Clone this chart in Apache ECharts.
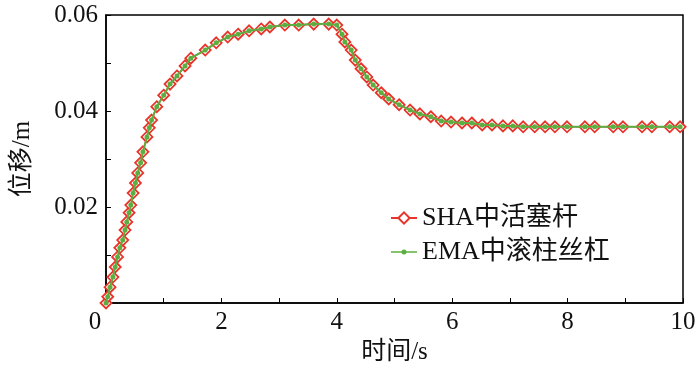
<!DOCTYPE html>
<html>
<head>
<meta charset="utf-8">
<script src="https://cdn.jsdelivr.net/npm/echarts@6/dist/echarts.min.js"></script>
<style>
  html, body { margin: 0; padding: 0; background: #fff; }
  #main { width: 700px; height: 376px; }
</style>
</head>
<body>
<div id="main"></div>
<script>
// 时间 (s)
var times = [0, 0.03, 0.07, 0.12, 0.16, 0.2, 0.24, 0.29, 0.33, 0.36, 0.4, 0.43, 0.47, 0.51, 0.55, 0.6, 0.64,
    0.71, 0.75, 0.79, 0.88, 1.0, 1.11, 1.23, 1.37, 1.47, 1.72, 1.91, 2.11, 2.29, 2.48, 2.69, 2.84, 3.1, 3.34,
    3.6, 3.86, 4.0, 4.09, 4.14, 4.25, 4.32, 4.42, 4.52, 4.63, 4.77, 4.9, 5.08, 5.27, 5.44, 5.63, 5.81, 5.98,
    6.17, 6.34, 6.52, 6.69, 6.88, 7.05, 7.23, 7.43, 7.61, 7.78, 7.99, 8.3, 8.47, 8.79, 8.96, 9.29, 9.46, 9.77, 9.95];
// 位移 (m)
var shaValues = [0, 0.0013, 0.0033, 0.0054, 0.0075, 0.0096, 0.0115, 0.0131, 0.0152, 0.0169, 0.0188, 0.0204, 0.0229,
    0.025, 0.0271, 0.0292, 0.0315, 0.0346, 0.0365, 0.0381, 0.0409, 0.0433, 0.0456, 0.0473, 0.0494, 0.051, 0.0527,
    0.0542, 0.0554, 0.056, 0.0567, 0.0571, 0.0575, 0.0579, 0.0579, 0.0581, 0.0581, 0.0579, 0.056, 0.0544, 0.0527,
    0.0506, 0.0488, 0.0471, 0.0454, 0.0438, 0.0425, 0.0413, 0.0402, 0.0394, 0.0388, 0.0379, 0.0377, 0.0375, 0.0375,
    0.0371, 0.0371, 0.0369, 0.0369, 0.0367, 0.0367, 0.0367, 0.0367, 0.0367, 0.0367, 0.0367, 0.0367, 0.0367, 0.0367,
    0.0367, 0.0367, 0.0367];
var emaValues = [0, 0.0013, 0.0033, 0.0054, 0.0075, 0.0096, 0.0115, 0.0131, 0.0152, 0.0169, 0.0188, 0.0204, 0.0229,
    0.025, 0.0271, 0.0292, 0.0315, 0.0346, 0.0365, 0.0381, 0.0409, 0.0433, 0.0456, 0.0473, 0.0494, 0.051, 0.0527,
    0.0542, 0.0554, 0.056, 0.0567, 0.0571, 0.0575, 0.0579, 0.0579, 0.0581, 0.0581, 0.0579, 0.056, 0.0544, 0.0527,
    0.0506, 0.0488, 0.0471, 0.0454, 0.0438, 0.0425, 0.0413, 0.0402, 0.0394, 0.0388, 0.0379, 0.0377, 0.0375, 0.0375,
    0.0371, 0.0371, 0.0369, 0.0369, 0.0367, 0.0367, 0.0367, 0.0367, 0.0367, 0.0367, 0.0367, 0.0367, 0.0367, 0.0367,
    0.0367, 0.0367, 0.0367];
var seriesNames = ['SHA中活塞杆', 'EMA中滚柱丝杠'];

var FONT = "'Liberation Serif', 'Noto Sans CJK SC', serif";
var RED = '#e8342b', GREEN = '#5cae41';

function pairs(vals) {
    return times.map(function (t, i) { return [t, vals[i]]; });
}

// 图例里的绿色小圆点+细线（两个空的点撑开包围盒）
var emaIcon = 'path://M0,0L0,0M26,14L26,14' +
    'M0,6.3L26,6.3L26,7.7L0,7.7Z' +
    'M10.5,7A2.5,2.5 0 1 1 15.5,7A2.5,2.5 0 1 1 10.5,7Z';

var chart = echarts.init(document.getElementById('main'));
chart.setOption({
    animation: false,
    grid: {
        left: 106, right: 17, top: 15, bottom: 73,
        show: true, borderColor: '#000', borderWidth: 1.5
    },
    legend: {
        left: 385, top: 200,
        orient: 'vertical',
        itemGap: 8,
        itemWidth: 26, itemHeight: 14,
        textStyle: { fontFamily: FONT, fontSize: 26, color: '#111' },
        data: [
            { name: seriesNames[0] },
            { name: seriesNames[1], icon: emaIcon, itemStyle: { color: GREEN } }
        ]
    },
    xAxis: {
        type: 'value', min: 0, max: 10, interval: 1,
        name: '时间/s', nameLocation: 'middle', nameGap: 35,
        nameTextStyle: { fontFamily: FONT, fontSize: 25, color: '#111' },
        axisLine: { lineStyle: { color: '#000', width: 1.5 } },
        axisTick: { inside: true, length: 5, lineStyle: { color: '#000' } },
        splitLine: { show: false },
        axisLabel: {
            margin: 7, fontFamily: FONT, fontSize: 25, color: '#111',
            formatter: function (v) {
                if (v === 0) return '{z|0}';
                return v % 2 === 0 ? String(v) : '';
            },
            rich: { z: { fontFamily: FONT, fontSize: 25, color: '#111', padding: [0, 22, 0, 0] } }
        }
    },
    yAxis: {
        type: 'value', min: 0, max: 0.06, interval: 0.01,
        name: '位移/m', nameLocation: 'middle', nameGap: 71,
        nameTextStyle: { fontFamily: FONT, fontSize: 25, color: '#111' },
        axisLine: { show: true, lineStyle: { color: '#000', width: 1.5 } },
        axisTick: { show: true, inside: true, length: 5, lineStyle: { color: '#000' } },
        splitLine: { show: false },
        axisLabel: {
            margin: 8, fontFamily: FONT, fontSize: 25, color: '#111',
            formatter: function (v) {
                var k = Math.round(v * 100);
                if (k === 0 || k % 2 !== 0) return '';
                return (k / 100).toFixed(2);
            }
        }
    },
    series: [
        {
            name: seriesNames[0],
            type: 'line',
            data: pairs(shaValues),
            symbol: 'diamond',
            symbolSize: 11,
            showAllSymbol: true,
            lineStyle: { color: RED, width: 1.5 },
            itemStyle: { color: '#fff', borderColor: RED, borderWidth: 1.8 },
            z: 2
        },
        {
            name: seriesNames[1],
            type: 'line',
            data: pairs(emaValues),
            symbol: 'circle',
            symbolSize: 5,
            showAllSymbol: true,
            lineStyle: { color: GREEN, width: 2 },
            itemStyle: { color: GREEN, borderWidth: 0 },
            z: 3
        }
    ]
});
</script>
</body>
</html>
